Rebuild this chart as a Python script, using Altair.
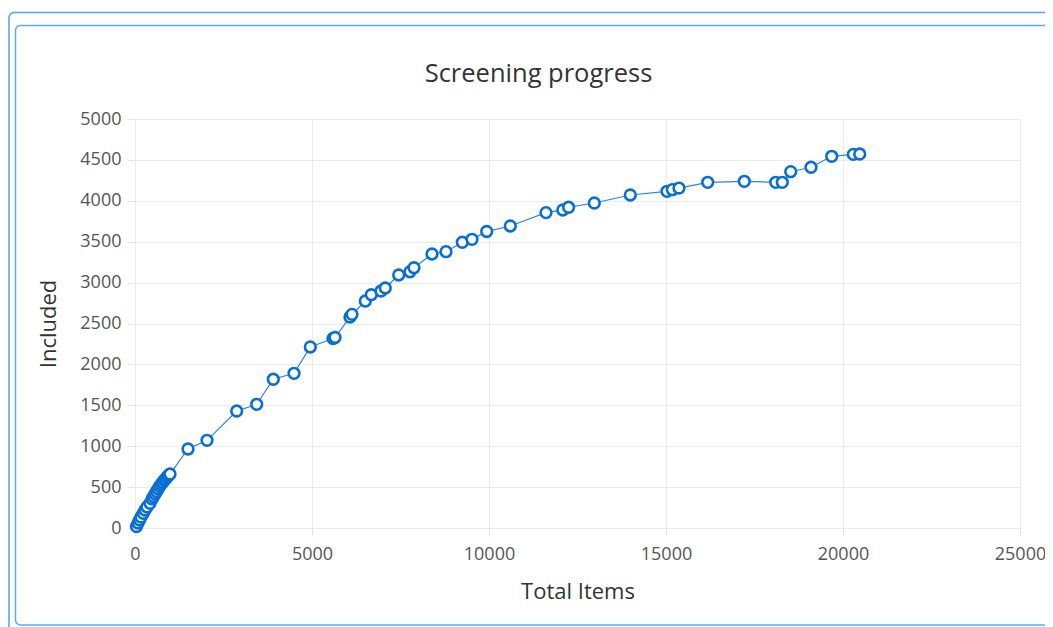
import altair as alt
import pandas as pd

total_items = [
    42, 85, 127, 170, 234, 282, 339, 424, 480, 523, 565, 607, 650, 692, 734,
    777, 819, 862, 904, 946, 989,
    1497, 2034, 2873, 3438, 3907, 4492, 4952, 5593, 5650, 6073, 6130, 6506,
    6675, 6949, 7071, 7449, 7768, 7881, 8390, 8785, 9246, 9520, 9935, 10602,
    11610, 12085, 12249, 12975, 13992, 15028, 15178, 15367, 16178, 17212,
    18099, 18285, 18523, 19096, 19681, 20291, 20472,
]
included = [
    18, 61, 98, 134, 180, 220, 257, 302, 355, 385, 416, 446, 477, 507, 532,
    556, 581, 599, 623, 642, 660,
    966, 1072, 1430, 1512, 1818, 1891, 2213, 2317, 2329, 2579, 2612, 2775,
    2852, 2897, 2934, 3093, 3133, 3182, 3350, 3378, 3493, 3529, 3625, 3692,
    3855, 3888, 3921, 3973, 4071, 4116, 4136, 4156, 4226, 4238,
    4226, 4226, 4356, 4410, 4544, 4568, 4572,
]

df = pd.DataFrame({"Total Items": total_items, "Included": included})

FONT = "Open Sans"
BLUE = "#0a6fd2"

x_enc = alt.X(
    "Total Items:Q",
    title="Total Items",
    scale=alt.Scale(domain=[0, 25000], nice=False),
    axis=alt.Axis(values=[0, 5000, 10000, 15000, 20000, 25000], format="d",
                  labelFlush=False, labelPadding=9, titlePadding=18),
)
y_enc = alt.Y(
    "Included:Q",
    title="Included",
    scale=alt.Scale(domain=[0, 5000], nice=False),
    axis=alt.Axis(values=list(range(0, 5001, 500)), format="d",
                  labelPadding=6, titlePadding=19),
)

base = alt.Chart(df).encode(x=x_enc, y=y_enc, order=alt.Order("Total Items:Q"))

line = base.mark_line(color="#2a85dc", strokeWidth=1.2)
points = base.mark_point(
    shape="circle", filled=True, fill="white", stroke=BLUE,
    strokeWidth=2.6, size=115, opacity=1,
)

frame = alt.Data(values=[{"k": 1}])
outer = alt.Chart(frame).mark_rect(
    fill=None, stroke="#4f9fff", strokeWidth=1.5, cornerRadius=5
).encode(
    x=alt.value(-126), x2=alt.value(960), y=alt.value(-106.5), y2=alt.value(560)
)
inner = alt.Chart(frame).mark_rect(
    fill=None, stroke="#5aa9ff", strokeWidth=1.5, cornerRadius=5
).encode(
    x=alt.value(-119.5), x2=alt.value(950), y=alt.value(-93.5), y2=alt.value(506)
)

chart = alt.layer(outer, inner, line, points).properties(
    width=885,
    height=409,
    autosize=alt.AutoSizeParams(type="none"),
    padding={"left": 127, "top": 111, "right": 25, "bottom": 101},
    title=alt.TitleParams(
        "Screening progress", fontSize=25.5, font=FONT, fontWeight="normal",
        color="#333333", anchor="middle", frame="group", baseline="alphabetic",
        offset=36, dy=132, dx=-39,
    ),
).configure_view(stroke=None).configure_axis(
    labelFont=FONT, labelFontSize=18, labelColor="#555555",
    titleFont=FONT, titleFontSize=22, titleColor="#333333", titleFontWeight="normal",
    gridColor="#ebebeb", gridWidth=1, domain=False,
    tickColor="#e3e3e3", tickSize=8,
)

chart.save("out.html", embed_options={"renderer": "svg", "actions": False})
